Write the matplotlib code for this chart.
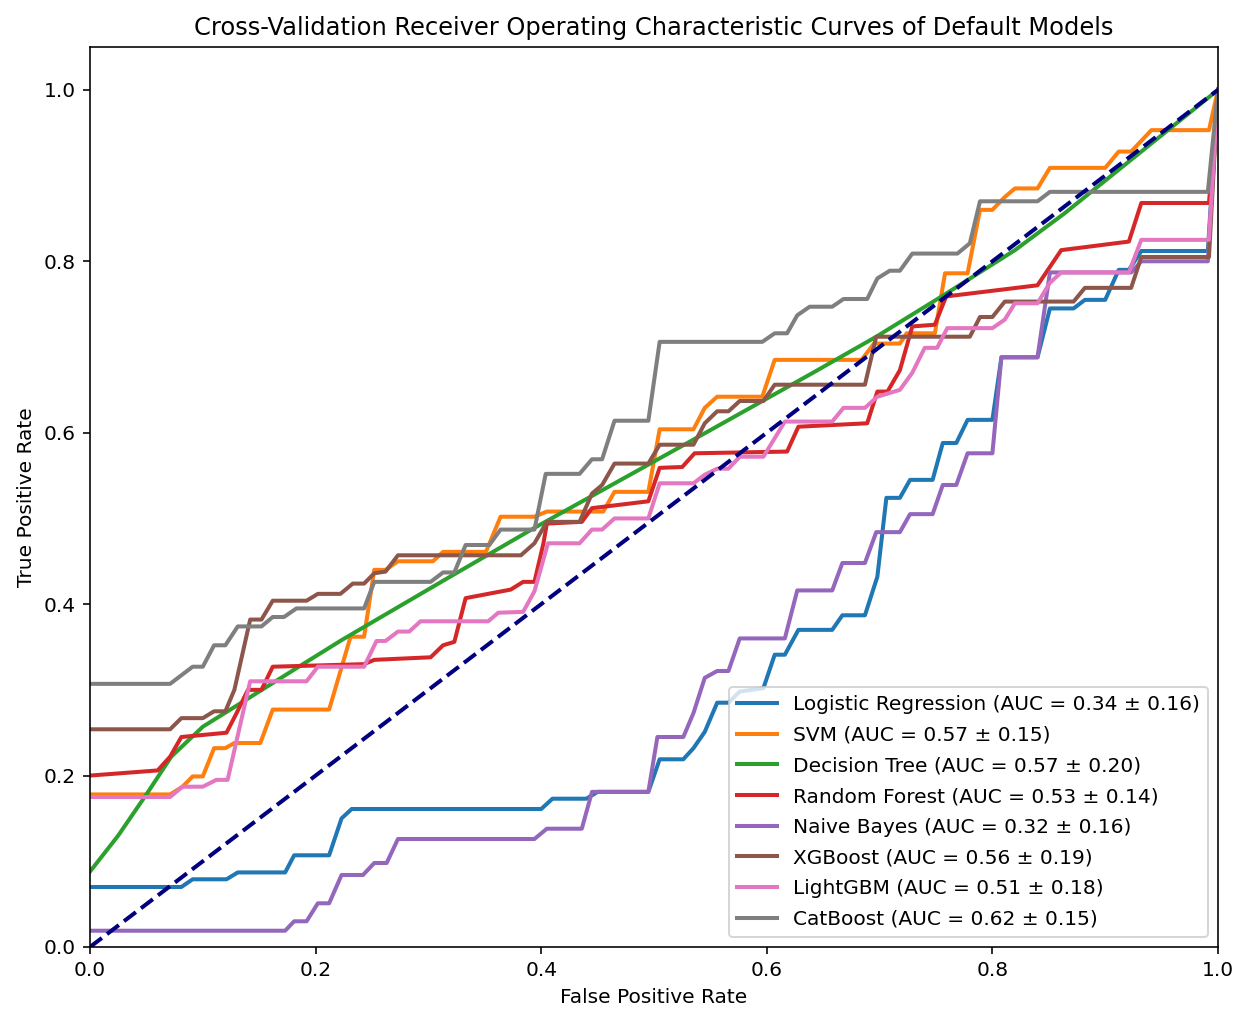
import numpy as np
import matplotlib
matplotlib.use('Agg')
import matplotlib.pyplot as plt

logreg = [(0, 0.07), (0.081, 0.07), (0.091, 0.079), (0.121, 0.079), (0.131, 0.087), (0.173, 0.087),
          (0.181, 0.107), (0.212, 0.107), (0.223, 0.150), (0.232, 0.161), (0.40, 0.161), (0.41, 0.173),
          (0.44, 0.173), (0.45, 0.181), (0.495, 0.181), (0.505, 0.219), (0.526, 0.219), (0.535, 0.232),
          (0.545, 0.251), (0.556, 0.285), (0.566, 0.285), (0.576, 0.298), (0.597, 0.302), (0.607, 0.341),
          (0.616, 0.341), (0.628, 0.37), (0.658, 0.37), (0.667, 0.387), (0.687, 0.387), (0.698, 0.432),
          (0.706, 0.524), (0.718, 0.524), (0.727, 0.545), (0.747, 0.545), (0.756, 0.588), (0.768, 0.588),
          (0.778, 0.615), (0.80, 0.615), (0.808, 0.688), (0.84, 0.688), (0.851, 0.745), (0.872, 0.745),
          (0.882, 0.755), (0.90, 0.755), (0.912, 0.79), (0.921, 0.79), (0.932, 0.812), (0.991, 0.812),
          (1.0, 1.0)]
svm = [(0, 0.178), (0.071, 0.178), (0.082, 0.187), (0.091, 0.199), (0.10, 0.199), (0.11, 0.232),
       (0.12, 0.232), (0.128, 0.238), (0.151, 0.238), (0.162, 0.277), (0.212, 0.277), (0.231, 0.362),
       (0.243, 0.362), (0.252, 0.44), (0.262, 0.44), (0.273, 0.45), (0.304, 0.45), (0.313, 0.461),
       (0.351, 0.461), (0.364, 0.502), (0.394, 0.502), (0.405, 0.508), (0.455, 0.508), (0.465, 0.531),
       (0.495, 0.531), (0.505, 0.604), (0.535, 0.604), (0.545, 0.629), (0.556, 0.642), (0.596, 0.642),
       (0.607, 0.685), (0.684, 0.685), (0.695, 0.704), (0.718, 0.704), (0.724, 0.716), (0.749, 0.716),
       (0.758, 0.786), (0.778, 0.786), (0.789, 0.86), (0.80, 0.86), (0.811, 0.875), (0.82, 0.885),
       (0.84, 0.885), (0.851, 0.909), (0.90, 0.909), (0.912, 0.928), (0.923, 0.928), (0.941, 0.953),
       (0.992, 0.953), (1.0, 1.0)]
dtree = [(0, 0.088), (0.025, 0.13), (0.051, 0.18), (0.072, 0.222), (0.10, 0.257), (0.122, 0.275),
         (0.19, 0.331), (0.223, 0.358), (0.314, 0.428), (0.394, 0.489), (0.535, 0.592), (0.641, 0.67),
         (0.697, 0.712), (0.755, 0.759), (0.82, 0.813), (0.864, 0.856), (1.0, 1.0)]
rforest = [(0, 0.2), (0.06, 0.206), (0.071, 0.222), (0.081, 0.245), (0.121, 0.25), (0.13, 0.273),
           (0.14, 0.30), (0.152, 0.30), (0.162, 0.327), (0.243, 0.330), (0.252, 0.335), (0.302, 0.338),
           (0.313, 0.352), (0.323, 0.356), (0.333, 0.407), (0.373, 0.417), (0.384, 0.426), (0.394, 0.426),
           (0.402, 0.471), (0.405, 0.494), (0.436, 0.496), (0.445, 0.512), (0.495, 0.52), (0.505, 0.559),
           (0.525, 0.56), (0.536, 0.576), (0.618, 0.578), (0.628, 0.607), (0.689, 0.611), (0.698, 0.648),
           (0.707, 0.648), (0.718, 0.673), (0.729, 0.724), (0.749, 0.726), (0.759, 0.759), (0.84, 0.772),
           (0.861, 0.813), (0.921, 0.823), (0.932, 0.868), (0.992, 0.868), (1.0, 1.0)]
nbayes = [(0, 0.019), (0.173, 0.019), (0.181, 0.03), (0.192, 0.03), (0.202, 0.051), (0.212, 0.051),
          (0.223, 0.084), (0.242, 0.084), (0.252, 0.098), (0.263, 0.098), (0.273, 0.126), (0.394, 0.126),
          (0.405, 0.138), (0.436, 0.138), (0.445, 0.181), (0.495, 0.181), (0.503, 0.245), (0.526, 0.245),
          (0.535, 0.273), (0.545, 0.314), (0.556, 0.322), (0.566, 0.322), (0.576, 0.36), (0.616, 0.36),
          (0.627, 0.416), (0.658, 0.416), (0.667, 0.448), (0.687, 0.448), (0.697, 0.484), (0.718, 0.484),
          (0.727, 0.505), (0.747, 0.505), (0.756, 0.539), (0.768, 0.539), (0.778, 0.576), (0.80, 0.576),
          (0.808, 0.688), (0.84, 0.688), (0.851, 0.787), (0.923, 0.787), (0.932, 0.80), (0.991, 0.80),
          (1.0, 1.0)]
xgb = [(0, 0.254), (0.071, 0.254), (0.081, 0.267), (0.10, 0.267), (0.11, 0.275), (0.12, 0.275),
       (0.128, 0.30), (0.142, 0.382), (0.152, 0.382), (0.162, 0.404), (0.192, 0.404), (0.202, 0.412),
       (0.222, 0.412), (0.233, 0.424), (0.243, 0.424), (0.252, 0.436), (0.262, 0.438), (0.273, 0.457),
       (0.382, 0.457), (0.394, 0.471), (0.405, 0.496), (0.434, 0.496), (0.445, 0.529), (0.454, 0.539),
       (0.465, 0.564), (0.495, 0.564), (0.505, 0.586), (0.535, 0.586), (0.545, 0.611), (0.556, 0.625),
       (0.566, 0.625), (0.576, 0.637), (0.597, 0.637), (0.607, 0.656), (0.687, 0.656), (0.697, 0.712),
       (0.78, 0.712), (0.789, 0.735), (0.80, 0.735), (0.811, 0.753), (0.872, 0.753), (0.882, 0.769),
       (0.923, 0.769), (0.932, 0.805), (0.992, 0.805), (1.0, 1.0)]
lgbm = [(0, 0.175), (0.071, 0.175), (0.082, 0.187), (0.10, 0.187), (0.112, 0.195), (0.122, 0.195),
        (0.142, 0.31), (0.192, 0.31), (0.202, 0.327), (0.243, 0.327), (0.254, 0.357), (0.262, 0.357),
        (0.273, 0.368), (0.283, 0.368), (0.293, 0.38), (0.353, 0.38), (0.362, 0.39), (0.384, 0.391),
        (0.394, 0.415), (0.406, 0.471), (0.434, 0.471), (0.445, 0.487), (0.454, 0.487), (0.465, 0.5),
        (0.495, 0.5), (0.505, 0.541), (0.535, 0.541), (0.545, 0.551), (0.556, 0.558), (0.566, 0.558),
        (0.576, 0.572), (0.597, 0.572), (0.616, 0.613), (0.658, 0.613), (0.668, 0.629), (0.687, 0.629),
        (0.698, 0.642), (0.718, 0.65), (0.729, 0.67), (0.74, 0.699), (0.751, 0.699), (0.76, 0.722),
        (0.80, 0.722), (0.811, 0.732), (0.82, 0.751), (0.84, 0.751), (0.851, 0.775), (0.861, 0.787),
        (0.921, 0.787), (0.932, 0.825), (0.992, 0.825), (1.0, 1.0)]
catb = [(0, 0.307), (0.071, 0.307), (0.081, 0.317), (0.091, 0.327), (0.10, 0.327), (0.11, 0.352),
        (0.12, 0.352), (0.131, 0.374), (0.152, 0.374), (0.162, 0.385), (0.172, 0.385), (0.183, 0.395),
        (0.243, 0.395), (0.252, 0.426), (0.302, 0.426), (0.313, 0.437), (0.323, 0.437), (0.333, 0.469),
        (0.354, 0.469), (0.364, 0.487), (0.394, 0.487), (0.404, 0.552), (0.434, 0.552), (0.445, 0.569),
        (0.454, 0.569), (0.465, 0.614), (0.495, 0.614), (0.505, 0.706), (0.596, 0.706), (0.607, 0.716),
        (0.618, 0.716), (0.627, 0.737), (0.638, 0.747), (0.658, 0.747), (0.668, 0.756), (0.689, 0.756),
        (0.698, 0.78), (0.709, 0.789), (0.718, 0.789), (0.729, 0.809), (0.769, 0.809), (0.78, 0.821),
        (0.789, 0.87), (0.84, 0.87), (0.851, 0.881), (0.991, 0.881), (1.0, 1.0)]

model_names = ['Logistic Regression', 'SVM', 'Decision Tree', 'Random Forest',
               'Naive Bayes', 'XGBoost', 'LightGBM', 'CatBoost']
auc_mean = [0.34, 0.57, 0.57, 0.53, 0.32, 0.56, 0.51, 0.62]
auc_std = [0.16, 0.15, 0.20, 0.14, 0.16, 0.19, 0.18, 0.15]
curves = [logreg, svm, dtree, rforest, nbayes, xgb, lgbm, catb]

dpi = 145
fig = plt.figure(figsize=(1238 / dpi, 1009 / dpi), dpi=dpi)
ax = fig.add_axes([90 / 1238, 62 / 1009, 1128 / 1238, 900 / 1009])

for name, pts, m, s in zip(model_names, curves, auc_mean, auc_std):
    pts = np.array(pts)
    ax.plot(pts[:, 0], pts[:, 1], lw=2, label=f'{name} (AUC = {m:.2f} ± {s:.2f})')

ax.plot([0, 1], [0, 1], color='navy', lw=2, linestyle='--')

ax.set_xlim([0.0, 1.0])
ax.set_ylim([0.0, 1.05])
ax.set_xlabel('False Positive Rate')
ax.set_ylabel('True Positive Rate')
ax.set_title('Cross-Validation Receiver Operating Characteristic Curves of Default Models')
ax.legend(loc='lower right', labelspacing=0.58)

fig.savefig('out.png', dpi=dpi)
